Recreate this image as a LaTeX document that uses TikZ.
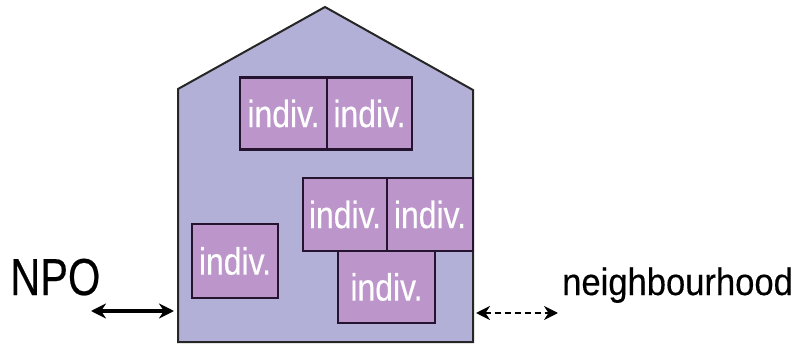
\documentclass[tikz,border=0pt]{standalone}
\usepackage{fontspec}
\setmainfont[FakeBold=0.4]{Liberation Sans}
\usetikzlibrary{arrows.meta}
\definecolor{housefill}{RGB}{178,176,214}
\definecolor{boxfill}{RGB}{188,150,202}
\definecolor{boxline}{RGB}{36,20,48}
\newcommand\sqz[2]{\scalebox{#1}[1]{#2}}
\begin{document}
\begin{tikzpicture}[x=1pt,y=-1pt,
  housestyle/.style={draw=black!85, line width=2pt, fill=housefill, line join=miter},
  indiv/.style={draw=boxline, line width=2.2pt, fill=boxfill, text=white,
    font=\fontsize{38}{40}\selectfont, inner sep=0pt, anchor=center},
  arr/.style={{Stealth[length=15pt,width=15pt]}-{Stealth[length=15pt,width=15pt]}, line width=3.2pt},
  darr/.style={{Stealth[length=14pt,width=14pt]}-{Stealth[length=14pt,width=14pt]}, line width=2.2pt, dash pattern=on 6pt off 4pt}]
\useasboundingbox (0,0) rectangle (797,344);
% house
\coordinate (hbl) at (178,342);
\coordinate (htl) at (178,89);
\coordinate (hap) at (325,7);
\coordinate (htr) at (473,90);
\coordinate (hbr) at (473,342);
\draw[housestyle] (hbl) -- (htl) -- (hap) -- (htr) -- (hbr) -- cycle;
% individuals
\node[indiv, minimum width=87pt, minimum height=72pt] (i1) at (283.5,113.5) {\sqz{0.84}{indiv.}};
\node[indiv, minimum width=85pt, minimum height=72pt] (i2) at (369.5,113.5) {\sqz{0.84}{indiv.}};
\node[indiv, minimum width=97pt, minimum height=72pt] (i5) at (386.5,287) {\sqz{0.84}{indiv.}};
\node[indiv, minimum width=84pt, minimum height=73pt] (i3) at (345,214.5) {\sqz{0.84}{indiv.}};
\node[indiv, minimum width=86pt, minimum height=73pt] (i4) at (430,214.5) {\sqz{0.84}{indiv.}};
\node[indiv, minimum width=86pt, minimum height=74pt] (i6) at (235,261) {\sqz{0.84}{indiv.}};
% labels
\node[anchor=base west, inner sep=0pt, font=\fontsize{52}{54}\selectfont] (npo) at (10,295) {\sqz{0.8}{NPO}};
\node[anchor=base west, inner sep=0pt, font=\fontsize{38}{40}\selectfont] (nb) at (562,295) {\sqz{0.91}{neighbourhood}};
% connectors
\coordinate (npoend) at (91,311);
\coordinate (hl) at (174,311);
\coordinate (hr) at (476,313);
\coordinate (nbend) at (558,313);
\draw[arr] (npoend) -- (hl);
\draw[darr] (hr) -- (nbend);
\end{tikzpicture}
\end{document}
